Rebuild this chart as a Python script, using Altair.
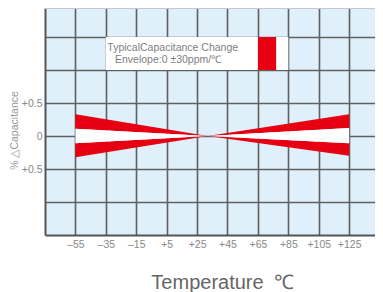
import altair as alt
import pandas as pd

# ---- data ----
temps = [-55, 32, 125]
upper_outer = [0.33, 0.0, 0.33]
upper_inner = [0.11, 0.0, 0.12]
lower_outer = [-0.32, 0.0, -0.30]
lower_inner = [-0.11, 0.0, -0.11]

x_ticks = [-55, -35, -15, 5, 25, 45, 65, 85, 105, 125]
y_ticks = [-1.0, -0.5, 0.0, 0.5, 1.0, 1.5]
x_domain = [-75, 142]
y_domain = [-1.5, 1.94]

box_x = [-35, 85]
box_y = [1.0, 1.5]
swatch_x = [65, 77]
legend_lines = ["TypicalCapacitance Change", "Envelope:0 \u00b130ppm/\u2103"]
legend_x = [-34, -29]
legend_y = [1.29, 1.10]

RED = "#e60012"
FONT = "Liberation Sans"

bands = pd.DataFrame({
    "temp": temps,
    "uo": upper_outer,
    "ui": upper_inner,
    "lo": lower_outer,
    "li": lower_inner,
})
box = pd.DataFrame({"x1": [box_x[0]], "x2": [box_x[1]], "y1": [box_y[0]], "y2": [box_y[1]]})
swatch = pd.DataFrame({"x1": [swatch_x[0]], "x2": [swatch_x[1]], "y1": [box_y[0]], "y2": [box_y[1]]})
legend = pd.DataFrame({"x": legend_x, "y": legend_y, "t": legend_lines})

xs = alt.Scale(domain=x_domain, nice=False, zero=False)
ys = alt.Scale(domain=y_domain, nice=False, zero=False)

x_axis = alt.Axis(
    values=x_ticks, grid=True, gridColor="#606060", gridWidth=1.6, ticks=False,
    domainColor="#555555", domainWidth=2,
    labelExpr="datum.value < 0 ? '\u2013' + abs(datum.value) : '+' + datum.value",
    labelFontSize=10.5, labelColor="#888888", labelPadding=4, labelFont=FONT,
    labelFlush=False, labelOverlap=False,
    title="Temperature\u2002\u2103", titleFontSize=20, titleColor="#666666",
    titleFontWeight="normal", titleFont=FONT, titleX=177, titleY=53,
    titleBaseline="alphabetic", titleAlign="center",
)
y_axis = alt.Axis(
    values=y_ticks, grid=True, gridColor="#606060", gridWidth=1.6, ticks=False,
    domainColor="#555555", domainWidth=2,
    labelExpr="datum.value == 0 ? '0' : (abs(datum.value) == 0.5 ? '+0.5' : '')",
    labelFontSize=10.5, labelColor="#888888", labelPadding=3, labelFont=FONT,
    labelFlush=False, labelOverlap=False,
    title="% \u25b3Capacitance", titleFontSize=10.5, titleColor="#999999",
    titleFontWeight="normal", titleFont=FONT, titleAngle=270, titleX=-31, titleY=122,
    titleAlign="center", titleBaseline="middle",
)


def X(field):
    return alt.X(field, scale=xs, axis=x_axis)


def Y(field):
    return alt.Y(field, scale=ys, axis=y_axis)


box_layer = alt.Chart(box).mark_rect(color="white").encode(
    x=X("x1:Q"), x2="x2:Q", y=Y("y1:Q"), y2="y2:Q",
)
swatch_layer = alt.Chart(swatch).mark_rect(color=RED).encode(
    x=X("x1:Q"), x2="x2:Q", y=Y("y1:Q"), y2="y2:Q",
)
text_layer = alt.Chart(legend).mark_text(
    align="left", baseline="alphabetic", fontSize=10.5, color="#808080", font=FONT
).encode(
    x=X("x:Q"), y=Y("y:Q"), text="t:N",
)
upper = alt.Chart(bands).mark_area(color=RED, opacity=1).encode(
    x=X("temp:Q"), y=Y("uo:Q"), y2="ui:Q",
)
lower = alt.Chart(bands).mark_area(color=RED, opacity=1).encode(
    x=X("temp:Q"), y=Y("lo:Q"), y2="li:Q",
)
white = alt.Chart(bands).mark_area(color="white", opacity=1).encode(
    x=X("temp:Q"), y=Y("ui:Q"), y2="li:Q",
)
top_rule = alt.Chart(box).mark_rule(color="#c4c8cc", strokeWidth=2).encode(
    x=alt.value(0), x2=alt.value(330), y=alt.value(0)
)

chart = alt.layer(
    box_layer, swatch_layer, text_layer, upper, lower, white, top_rule
).properties(
    width=330, height=227,
    autosize=alt.AutoSizeParams(type="none"),
    padding={"left": 37, "top": 0, "right": 0, "bottom": 57},
).configure_view(fill="#dff0fa", stroke=None)

chart.save("out.html", embed_options={"renderer": "svg", "actions": False})
